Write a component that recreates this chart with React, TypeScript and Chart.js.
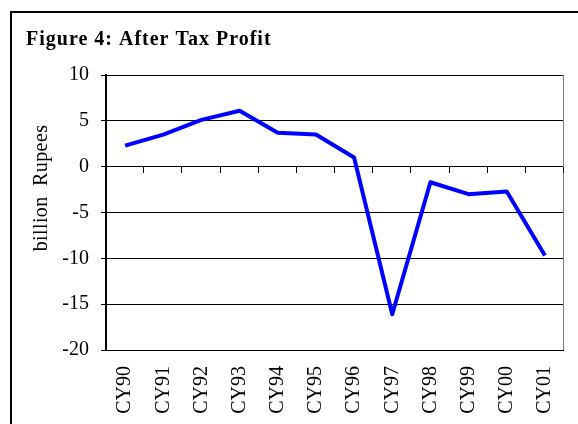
import React, { useEffect, useRef } from "react";
import { Chart, registerables } from "chart.js";

Chart.register(...registerables);

const categories = ["CY90", "CY91", "CY92", "CY93", "CY94", "CY95", "CY96", "CY97", "CY98", "CY99", "CY00", "CY01"];
const afterTaxProfit = [2.3, 3.5, 5.1, 6.1, 3.7, 3.5, 1.0, -16.1, -1.7, -3.0, -2.7, -9.7];
const yMin = -20;
const yMax = 10;
const yStep = 5;
const chartTitle = "Figure 4: After Tax Profit";
const yAxisTitle = "billion Rupees";

const SERIF = "'Liberation Serif', 'Times New Roman', serif";

const decorPlugin = {
  id: "decor",
  beforeDatasetsDraw(chart: any) {
    const { ctx, chartArea, scales } = chart;
    const xs = scales.x;
    const ys = scales.y;
    ctx.save();
    // right border of plot area
    ctx.strokeStyle = "#808080";
    ctx.lineWidth = 1;
    ctx.beginPath();
    ctx.moveTo(Math.round(chartArea.right) - 0.5, chartArea.top);
    ctx.lineTo(Math.round(chartArea.right) - 0.5, chartArea.bottom);
    ctx.stroke();
    // category tick marks on the zero line
    const y0 = Math.round(ys.getPixelForValue(0));
    ctx.strokeStyle = "#000";
    ctx.lineWidth = 1;
    for (let i = 1; i <= categories.length; i++) {
      const px =
        i < categories.length
          ? (xs.getPixelForValue(i - 1) + xs.getPixelForValue(i)) / 2
          : chartArea.right;
      const ax = Math.round(px) - 0.5;
      ctx.beginPath();
      ctx.moveTo(ax, y0);
      ctx.lineTo(ax, y0 + 6);
      ctx.stroke();
    }
    ctx.restore();
  },
  afterDraw(chart: any) {
    const { ctx, chartArea } = chart;
    ctx.save();
    ctx.fillStyle = "#000";
    // figure title
    ctx.font = `bold 20px ${SERIF}`;
    (ctx as any).letterSpacing = "1px";
    ctx.textAlign = "left";
    ctx.textBaseline = "alphabetic";
    ctx.fillText(chartTitle, 26, 45);
    // y axis title
    (ctx as any).letterSpacing = "0.4px";
    (ctx as any).wordSpacing = "5px";
    ctx.font = `20px ${SERIF}`;
    ctx.translate(chartArea.left - 59.5, (chartArea.top + chartArea.bottom) / 2 - 24.5);
    ctx.rotate(-Math.PI / 2);
    ctx.textAlign = "center";
    ctx.fillText(yAxisTitle, 0, 0);
    ctx.restore();
  },
};

export default function App() {
  const canvasRef = useRef<HTMLCanvasElement | null>(null);

  useEffect(() => {
    if (!canvasRef.current) return;
    const chart = new Chart(canvasRef.current, {
      type: "line",
      data: {
        labels: categories,
        datasets: [
          {
            data: afterTaxProfit,
            borderColor: "#0000FF",
            backgroundColor: "#0000FF",
            borderWidth: 4,
            pointRadius: 0,
            pointHoverRadius: 0,
            tension: 0,
            fill: false,
            borderJoinStyle: "round",
            borderCapStyle: "butt",
          },
        ],
      },
      options: {
        responsive: false,
        animation: false,
        events: [],
        layout: { padding: { top: 75, right: 14, left: 0, bottom: 0 } },
        plugins: {
          legend: { display: false },
          tooltip: { enabled: false },
          title: { display: false },
        },
        scales: {
          x: {
            type: "category",
            offset: true,
            grid: { display: false, drawTicks: false },
            border: { display: false },
            ticks: {
              autoSkip: false,
              minRotation: 90,
              maxRotation: 90,
              padding: 16,
              color: "#000",
              font: { family: SERIF, size: 20 },
            },
            afterFit: (s: any) => {
              s.height = 74;
              s.paddingLeft = 0;
              s.paddingRight = 0;
            },
          },
          y: {
            min: yMin,
            max: yMax,
            ticks: {
              stepSize: yStep,
              padding: 12,
              color: "#000",
              font: { family: SERIF, size: 20 },
            },
            grid: { color: "#000", lineWidth: 1, drawTicks: true, tickLength: 5 },
            border: { display: true, color: "#000", width: 2 },
            afterFit: (s: any) => {
              s.width = 106;
            },
          },
        },
      },
      plugins: [decorPlugin],
    });
    return () => chart.destroy();
  }, []);

  return (
    <div
      style={{
        position: "fixed",
        left: 0,
        top: 0,
        width: 578,
        height: 424,
        overflow: "hidden",
        background: "#fff",
      }}
    >
      <div
        style={{
          position: "absolute",
          left: 10,
          top: 11,
          width: 700,
          height: 600,
          borderLeft: "2px solid #000",
          borderTop: "2px solid #000",
        }}
      />
      <canvas
        ref={canvasRef}
        width={578}
        height={424}
        style={{ position: "absolute", left: 0, top: 0, display: "block" }}
      />
    </div>
  );
}
